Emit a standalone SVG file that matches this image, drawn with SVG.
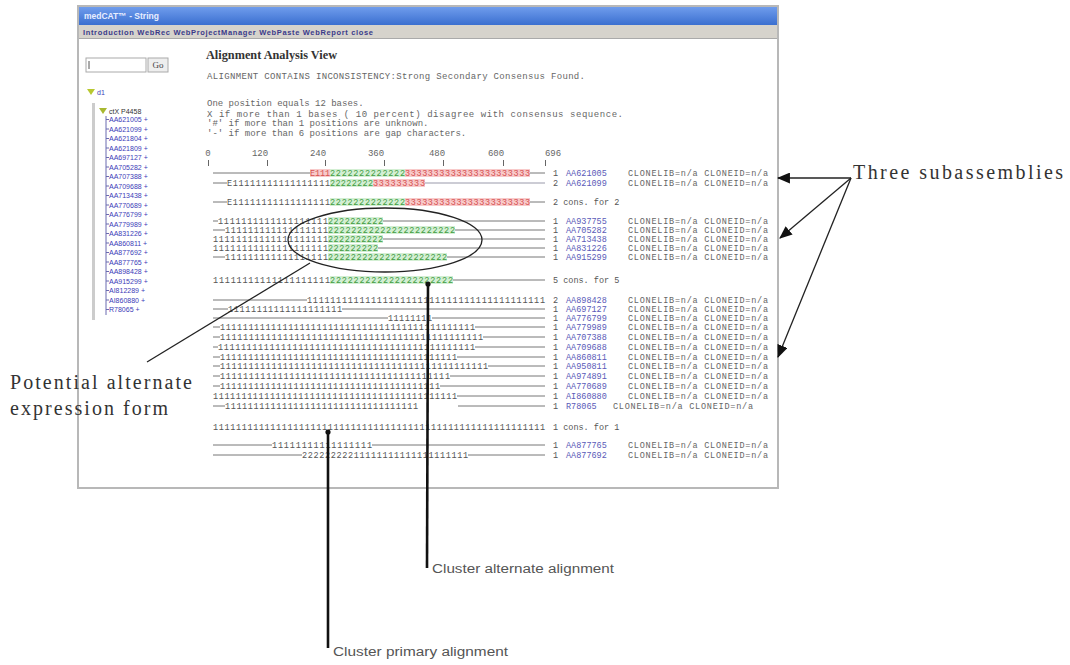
<svg xmlns="http://www.w3.org/2000/svg" width="1070" height="665" viewBox="0 0 1070 665">
<defs>
  <marker id="ah" viewBox="0 0 12 10" refX="11" refY="5" markerWidth="13" markerHeight="11" markerUnits="userSpaceOnUse" orient="auto">
    <path d="M0,0 L12,5 L0,10 Z" fill="#111"/>
  </marker>
  <linearGradient id="tb" x1="0" y1="0" x2="0" y2="1">
    <stop offset="0" stop-color="#6f9cec"/>
    <stop offset="1" stop-color="#3b6fd0"/>
  </linearGradient>
</defs>
<style>
  .mono{font-family:"Liberation Mono","DejaVu Sans Mono",monospace;font-size:8.5px;fill:#555}
  .hdr{font-family:"Liberation Mono","DejaVu Sans Mono",monospace;font-size:9px;fill:#666}
  .gap{stroke:#777;stroke-width:1}
  .gapb{stroke:#99a;stroke-width:1}
  .hr{fill:#f8caca}
  .hg{fill:#d3efd3}
  .tr{fill:#d65050}
  .tg{fill:#3f9b3f}
  .id{fill:#5a5ab8}
  .meta{fill:#666}
  .tree{font-family:"Liberation Sans",Arial,sans-serif;font-size:7px;fill:#3c3cb8}
  .note{font-family:"Liberation Serif","DejaVu Serif",serif;font-size:20px;fill:#333}
  .cap{font-family:"Liberation Sans",Arial,sans-serif;font-size:12px;fill:#555}
  .lead{stroke:#222;stroke-width:1.3;fill:none}
  .bar{stroke:#111;stroke-width:2.6;fill:none}
  .tick{stroke:#666;stroke-width:1}
</style>

<!-- application window -->
<g id="window">
  <rect x="78" y="6" width="700" height="482" fill="#fff" stroke="#b8b8b8" stroke-width="2"/>
  <rect x="79" y="7" width="698" height="18" fill="url(#tb)"/>
  <text x="84" y="19" font-family="Liberation Sans,Arial,sans-serif" font-size="8.5" font-weight="bold" fill="#e8eeff">medCAT™ - String</text>
  <rect x="79" y="25" width="698" height="13" fill="#d6d3cc"/>
  <text x="83" y="35" font-family="Liberation Sans,Arial,sans-serif" font-size="7.5" font-weight="bold" fill="#3a3a8a" textLength="290" lengthAdjust="spacing">Introduction WebRec WebProjectManager WebPaste WebReport close</text>
  <line x1="79" y1="38.5" x2="777" y2="38.5" stroke="#aaa" stroke-width="1"/>
</g>

<!-- left navigation panel -->
<g id="nav-panel">
  <rect x="86" y="58" width="60" height="14" fill="#fff" stroke="#aaa" stroke-width="1"/>
  <line x1="89" y1="61" x2="89" y2="69" stroke="#555" stroke-width="1"/>
  <rect x="148" y="58" width="20" height="14" fill="#eee" stroke="#aaa" stroke-width="1"/>
  <text x="158" y="68" text-anchor="middle" font-family="Liberation Serif,serif" font-size="9" fill="#444">Go</text>
  <path d="M87,89 L95,89 L91,95 Z" fill="#b8c830"/>
  <text x="97" y="95" class="tree">d1</text>
  <rect x="92" y="103" width="3" height="217" fill="#ccc"/>
  <path d="M99,108 L107,108 L103,114 Z" fill="#a8b830"/>
  <text x="109" y="114" font-family="Liberation Sans,Arial,sans-serif" font-size="7" fill="#333">ctX P4458</text>
  <line x1="106" y1="116" x2="106" y2="315" stroke="#6a6ab0" stroke-width="1"/>
  <g class="tree">
    <text x="109" y="122">AA621005 +</text>
    <text x="109" y="131.5">AA621099 +</text>
    <text x="109" y="141">AA621804 +</text>
    <text x="109" y="150.5">AA621809 +</text>
    <text x="109" y="160">AA697127 +</text>
    <text x="109" y="169.5">AA705282 +</text>
    <text x="109" y="179">AA707388 +</text>
    <text x="109" y="188.5">AA709688 +</text>
    <text x="109" y="198">AA713438 +</text>
    <text x="109" y="207.5">AA770689 +</text>
    <text x="109" y="217">AA776799 +</text>
    <text x="109" y="226.5">AA779989 +</text>
    <text x="109" y="236">AA831226 +</text>
    <text x="109" y="245.5">AA860811 +</text>
    <text x="109" y="255">AA877692 +</text>
    <text x="109" y="264.5">AA877765 +</text>
    <text x="109" y="274">AA898428 +</text>
    <text x="109" y="283.5">AA915299 +</text>
    <text x="109" y="293">AI812289 +</text>
    <text x="109" y="302.5">AI860880 +</text>
    <text x="109" y="312">R78065 +</text>
  </g>
  <g stroke="#6a6ab0" stroke-width="1">
    <path d="M106,119.5h3M106,129h3M106,138.5h3M106,148h3M106,157.5h3M106,167h3M106,176.5h3M106,186h3M106,195.5h3M106,205h3M106,214.5h3M106,224h3M106,233.5h3M106,243h3M106,252.5h3M106,262h3M106,271.5h3M106,281h3M106,290.5h3M106,300h3M106,309.5h3"/>
  </g>
</g>

<!-- alignment view header -->
<g id="view-header">
  <text x="206" y="59" font-family="Liberation Serif,serif" font-size="12" font-weight="bold" fill="#333" textLength="131" lengthAdjust="spacingAndGlyphs">Alignment Analysis View</text>
  <text x="207" y="79" class="hdr" textLength="378" lengthAdjust="spacing">ALIGNMENT CONTAINS INCONSISTENCY:Strong Secondary Consensus Found.</text>
  <text x="207" y="106" class="hdr">One position equals 12 bases.</text>
  <text x="207" y="117" class="hdr" textLength="416" lengthAdjust="spacing">X if more than 1 bases ( 10 percent) disagree with consensus sequence.</text>
  <text x="207" y="126" class="hdr">'#' if more than 1 positions are unknown.</text>
  <text x="207" y="136" class="hdr">'-' if more than 6 positions are gap characters.</text>
  <g class="hdr" text-anchor="middle">
    <text x="208" y="156">0</text>
    <text x="260" y="156">120</text>
    <text x="318" y="156">240</text>
    <text x="376" y="156">360</text>
    <text x="437" y="156">480</text>
    <text x="496" y="156">600</text>
    <text x="553" y="156">696</text>
  </g>
  <path class="tick" d="M208.5,160v6M267.5,160v6M325.5,160v6M384.5,160v6M443.5,160v6M503.5,160v6M545.5,160v6"/>
</g>

<!-- subassembly 1 -->
<g id="sub1">
  <rect x="310" y="169" width="20" height="8" class="hr"/>
  <rect x="330" y="169" width="75" height="8" class="hg"/>
  <rect x="405" y="169" width="125" height="8" class="hr"/>
  <line x1="213" y1="173" x2="310" y2="173" class="gap" stroke="#333"/>
  <text x="310" y="176" class="mono tr" textLength="20" lengthAdjust="spacing">E111</text>
  <text x="330" y="176" class="mono tg" textLength="75" lengthAdjust="spacing">2222222222222</text>
  <text x="405" y="176" class="mono tr" textLength="125" lengthAdjust="spacing">3333333333333333333333</text>
  <line x1="530" y1="173" x2="545" y2="173" class="gap"/>

  <rect x="330" y="179" width="43" height="8" class="hg"/>
  <rect x="373" y="179" width="52" height="8" class="hr"/>
  <line x1="213" y1="183" x2="227" y2="183" class="gap"/>
  <text x="227" y="186" class="mono" textLength="103" lengthAdjust="spacing">E11111111111111111</text>
  <text x="330" y="186" class="mono tg" textLength="43" lengthAdjust="spacing">22222222</text>
  <text x="373" y="186" class="mono tr" textLength="52" lengthAdjust="spacing">333333333</text>
  <line x1="425" y1="183" x2="545" y2="183" class="gapb"/>

  <rect x="330" y="198" width="75" height="8" class="hg"/>
  <rect x="405" y="198" width="125" height="8" class="hr"/>
  <line x1="213" y1="202" x2="227" y2="202" class="gap"/>
  <text x="227" y="205" class="mono" textLength="103" lengthAdjust="spacing">E11111111111111111</text>
  <text x="330" y="205" class="mono tg" textLength="75" lengthAdjust="spacing">2222222222222</text>
  <text x="405" y="205" class="mono tr" textLength="125" lengthAdjust="spacing">3333333333333333333333</text>
  <line x1="530" y1="202" x2="545" y2="202" class="gap"/>

  <g class="mono">
    <text x="553" y="176">1</text><text x="566" y="176" class="mono id">AA621005</text>
    <text x="628" y="176" class="mono meta" textLength="140" lengthAdjust="spacing">CLONELIB=n/a CLONEID=n/a</text>
    <text x="553" y="186">2</text><text x="566" y="186" class="mono id">AA621099</text>
    <text x="628" y="186" class="mono meta" textLength="140" lengthAdjust="spacing">CLONELIB=n/a CLONEID=n/a</text>
    <text x="553" y="205">2 cons. for 2</text>
  </g>
</g>

<!-- subassembly 2 -->
<g id="sub2">
  <rect x="328" y="217" width="55" height="8" class="hg"/>
  <rect x="328" y="226" width="127" height="8" class="hg"/>
  <rect x="328" y="235" width="55" height="8" class="hg"/>
  <rect x="328" y="244" width="50" height="8" class="hg"/>
  <rect x="328" y="253" width="119" height="8" class="hg"/>
  <rect x="330" y="276" width="123" height="8" class="hg"/>

  <line x1="213" y1="221" x2="218" y2="221" class="gap"/>
  <text x="218" y="224" class="mono" textLength="110" lengthAdjust="spacing">1111111111111111111</text>
  <text x="328" y="224" class="mono tg" textLength="55" lengthAdjust="spacing">2222222222</text>
  <line x1="383" y1="221" x2="545" y2="221" class="gap"/>

  <line x1="213" y1="230" x2="225" y2="230" class="gap"/>
  <text x="225" y="233" class="mono" textLength="103" lengthAdjust="spacing">111111111111111111</text>
  <text x="328" y="233" class="mono tg" textLength="127" lengthAdjust="spacing">2222222222222222222222</text>
  <line x1="455" y1="230" x2="545" y2="230" class="gap"/>

  <text x="213" y="242" class="mono" textLength="115" lengthAdjust="spacing">11111111111111111111</text>
  <text x="328" y="242" class="mono tg" textLength="55" lengthAdjust="spacing">2222222222</text>
  <line x1="383" y1="239" x2="545" y2="239" class="gap"/>

  <text x="213" y="251" class="mono" textLength="115" lengthAdjust="spacing">11111111111111111111</text>
  <text x="328" y="251" class="mono tg" textLength="50" lengthAdjust="spacing">222222222</text>
  <line x1="378" y1="248" x2="545" y2="248" class="gap"/>

  <line x1="213" y1="257" x2="225" y2="257" class="gap"/>
  <text x="225" y="260" class="mono" textLength="103" lengthAdjust="spacing">111111111111111111</text>
  <text x="328" y="260" class="mono tg" textLength="119" lengthAdjust="spacing">222222222222222222222</text>
  <line x1="447" y1="257" x2="545" y2="257" class="gap"/>

  <text x="213" y="283" class="mono" textLength="117" lengthAdjust="spacing">11111111111111111111</text>
  <text x="330" y="283" class="mono tg" textLength="123" lengthAdjust="spacing">222222222222222222222</text>
  <line x1="453" y1="280" x2="545" y2="280" class="gap"/>

  <g class="mono">
    <text x="553" y="224">1</text><text x="566" y="224" class="mono id">AA937755</text>
    <text x="628" y="224" class="mono meta" textLength="140" lengthAdjust="spacing">CLONELIB=n/a CLONEID=n/a</text>
    <text x="553" y="233">1</text><text x="566" y="233" class="mono id">AA705282</text>
    <text x="628" y="233" class="mono meta" textLength="140" lengthAdjust="spacing">CLONELIB=n/a CLONEID=n/a</text>
    <text x="553" y="242">1</text><text x="566" y="242" class="mono id">AA713438</text>
    <text x="628" y="242" class="mono meta" textLength="140" lengthAdjust="spacing">CLONELIB=n/a CLONEID=n/a</text>
    <text x="553" y="251">1</text><text x="566" y="251" class="mono id">AA831226</text>
    <text x="628" y="251" class="mono meta" textLength="140" lengthAdjust="spacing">CLONELIB=n/a CLONEID=n/a</text>
    <text x="553" y="260">1</text><text x="566" y="260" class="mono id">AA915299</text>
    <text x="628" y="260" class="mono meta" textLength="140" lengthAdjust="spacing">CLONELIB=n/a CLONEID=n/a</text>
    <text x="553" y="283">5 cons. for 5</text>
  </g>
</g>

<!-- subassembly 3 -->
<g id="sub3">
  <line x1="213" y1="300" x2="307" y2="300" class="gap"/>
  <text x="307" y="303" class="mono" textLength="238" lengthAdjust="spacing">11111111111111111111111111111111111111111</text>

  <line x1="213" y1="309" x2="228" y2="309" class="gap"/>
  <text x="228" y="312" class="mono" textLength="114" lengthAdjust="spacing">11111111111111111111</text>
  <line x1="342" y1="309" x2="545" y2="309" class="gap"/>

  <line x1="213" y1="318" x2="388" y2="318" class="gap"/>
  <text x="388" y="321" class="mono" textLength="44" lengthAdjust="spacing">11111111</text>
  <line x1="432" y1="318" x2="545" y2="318" class="gap"/>

  <line x1="213" y1="327" x2="220" y2="327" class="gap"/>
  <text x="220" y="330" class="mono" textLength="255" lengthAdjust="spacing">111111111111111111111111111111111111111111111</text>
  <line x1="475" y1="327" x2="545" y2="327" class="gap"/>

  <line x1="213" y1="337" x2="220" y2="337" class="gap"/>
  <text x="220" y="340" class="mono" textLength="263" lengthAdjust="spacing">1111111111111111111111111111111111111111111111</text>
  <line x1="483" y1="337" x2="545" y2="337" class="gap"/>

  <line x1="213" y1="347" x2="218" y2="347" class="gap"/>
  <text x="218" y="350" class="mono" textLength="257" lengthAdjust="spacing">111111111111111111111111111111111111111111111</text>
  <line x1="475" y1="347" x2="545" y2="347" class="gap"/>

  <line x1="213" y1="357" x2="220" y2="357" class="gap"/>
  <text x="220" y="360" class="mono" textLength="237" lengthAdjust="spacing">111111111111111111111111111111111111111111</text>
  <line x1="457" y1="357" x2="545" y2="357" class="gap"/>

  <line x1="213" y1="366" x2="220" y2="366" class="gap"/>
  <text x="220" y="369" class="mono" textLength="268" lengthAdjust="spacing">11111111111111111111111111111111111111111111111</text>
  <line x1="488" y1="366" x2="545" y2="366" class="gap"/>

  <line x1="213" y1="376" x2="220" y2="376" class="gap"/>
  <text x="220" y="379" class="mono" textLength="230" lengthAdjust="spacing">1111111111111111111111111111111111111111</text>
  <line x1="450" y1="376" x2="545" y2="376" class="gap"/>

  <line x1="213" y1="386" x2="220" y2="386" class="gap"/>
  <text x="220" y="389" class="mono" textLength="220" lengthAdjust="spacing">111111111111111111111111111111111111111</text>
  <line x1="440" y1="386" x2="545" y2="386" class="gap"/>

  <text x="213" y="399" class="mono" textLength="244" lengthAdjust="spacing">1111111111111111111111111111111111111111111</text>
  <line x1="457" y1="396" x2="545" y2="396" class="gap"/>

  <line x1="213" y1="406" x2="225" y2="406" class="gap"/>
  <text x="225" y="409" class="mono" textLength="193" lengthAdjust="spacing">1111111111111111111111111111111111</text>
  <line x1="458" y1="406" x2="545" y2="406" class="gap"/>

  <text x="213" y="430" class="mono" textLength="332" lengthAdjust="spacing">1111111111111111111111111111111111111111111111111111111111</text>

  <g class="mono">
    <text x="553" y="303">2</text><text x="566" y="303" class="mono id">AA898428</text>
    <text x="628" y="303" class="mono meta" textLength="140" lengthAdjust="spacing">CLONELIB=n/a CLONEID=n/a</text>
    <text x="553" y="312">1</text><text x="566" y="312" class="mono id">AA697127</text>
    <text x="628" y="312" class="mono meta" textLength="140" lengthAdjust="spacing">CLONELIB=n/a CLONEID=n/a</text>
    <text x="553" y="321">1</text><text x="566" y="321" class="mono id">AA776799</text>
    <text x="628" y="321" class="mono meta" textLength="140" lengthAdjust="spacing">CLONELIB=n/a CLONEID=n/a</text>
    <text x="553" y="330">1</text><text x="566" y="330" class="mono id">AA779989</text>
    <text x="628" y="330" class="mono meta" textLength="140" lengthAdjust="spacing">CLONELIB=n/a CLONEID=n/a</text>
    <text x="553" y="340">1</text><text x="566" y="340" class="mono id">AA707388</text>
    <text x="628" y="340" class="mono meta" textLength="140" lengthAdjust="spacing">CLONELIB=n/a CLONEID=n/a</text>
    <text x="553" y="350">1</text><text x="566" y="350" class="mono id">AA709688</text>
    <text x="628" y="350" class="mono meta" textLength="140" lengthAdjust="spacing">CLONELIB=n/a CLONEID=n/a</text>
    <text x="553" y="360">1</text><text x="566" y="360" class="mono id">AA860811</text>
    <text x="628" y="360" class="mono meta" textLength="140" lengthAdjust="spacing">CLONELIB=n/a CLONEID=n/a</text>
    <text x="553" y="369">1</text><text x="566" y="369" class="mono id">AA950811</text>
    <text x="628" y="369" class="mono meta" textLength="140" lengthAdjust="spacing">CLONELIB=n/a CLONEID=n/a</text>
    <text x="553" y="379">1</text><text x="566" y="379" class="mono id">AA974891</text>
    <text x="628" y="379" class="mono meta" textLength="140" lengthAdjust="spacing">CLONELIB=n/a CLONEID=n/a</text>
    <text x="553" y="389">1</text><text x="566" y="389" class="mono id">AA770689</text>
    <text x="628" y="389" class="mono meta" textLength="140" lengthAdjust="spacing">CLONELIB=n/a CLONEID=n/a</text>
    <text x="553" y="399">1</text><text x="566" y="399" class="mono id">AI860880</text>
    <text x="628" y="399" class="mono meta" textLength="140" lengthAdjust="spacing">CLONELIB=n/a CLONEID=n/a</text>
    <text x="553" y="409">1</text><text x="566" y="409" class="mono id">R78065</text>
    <text x="613" y="409" class="mono meta" textLength="140" lengthAdjust="spacing">CLONELIB=n/a CLONEID=n/a</text>
    <text x="553" y="430">1 cons. for 1</text>
  </g>
</g>

<!-- subassembly 4 -->
<g id="sub4">
  <line x1="213" y1="445" x2="272" y2="445" class="gap"/>
  <text x="272" y="448" class="mono" textLength="100" lengthAdjust="spacing">11111111111111111</text>
  <line x1="372" y1="445" x2="545" y2="445" class="gap"/>
  <line x1="213" y1="455" x2="302" y2="455" class="gap"/>
  <text x="302" y="458" class="mono" textLength="166" lengthAdjust="spacing">22222222211111111111111111111</text>
  <line x1="468" y1="455" x2="545" y2="455" class="gap"/>
  <g class="mono">
    <text x="553" y="448">1</text><text x="566" y="448" class="mono id">AA877765</text>
    <text x="628" y="448" class="mono meta" textLength="140" lengthAdjust="spacing">CLONELIB=n/a CLONEID=n/a</text>
    <text x="553" y="458">1</text><text x="566" y="458" class="mono id">AA877692</text>
    <text x="628" y="458" class="mono meta" textLength="140" lengthAdjust="spacing">CLONELIB=n/a CLONEID=n/a</text>
  </g>
</g>

<!-- annotation labels -->
<g id="label-subassemblies">
  <text x="853" y="179" class="note" textLength="210" lengthAdjust="spacing">Three subassemblies</text>
</g>
<g id="label-alternate-form">
  <text x="10" y="389" class="note" textLength="182" lengthAdjust="spacing">Potential alternate</text>
  <text x="10" y="415" class="note" textLength="158" lengthAdjust="spacing">expression form</text>
</g>
<g id="label-cluster-alternate">
  <text x="432" y="573" class="cap" textLength="182" lengthAdjust="spacingAndGlyphs">Cluster alternate alignment</text>
</g>
<g id="label-cluster-primary">
  <text x="333" y="656" class="cap" textLength="175" lengthAdjust="spacingAndGlyphs">Cluster primary alignment</text>
</g>

<!-- connectors -->
<g id="connectors">
  <ellipse cx="385" cy="240" rx="97" ry="32" class="lead" stroke-width="1.5"/>
  <line x1="310" y1="263" x2="147" y2="362" class="lead"/>
  <line x1="851" y1="178" x2="778" y2="178" class="lead" marker-end="url(#ah)"/>
  <line x1="851" y1="178" x2="780" y2="238" class="lead" marker-end="url(#ah)"/>
  <line x1="851" y1="178" x2="778" y2="357" class="lead" marker-end="url(#ah)"/>
  <circle cx="428" cy="284" r="2.6" fill="#111"/>
  <line x1="428" y1="284" x2="427" y2="568" class="bar"/>
  <circle cx="328" cy="432" r="2.6" fill="#111"/>
  <line x1="328" y1="432" x2="328" y2="648" class="bar"/>
</g>
</svg>
